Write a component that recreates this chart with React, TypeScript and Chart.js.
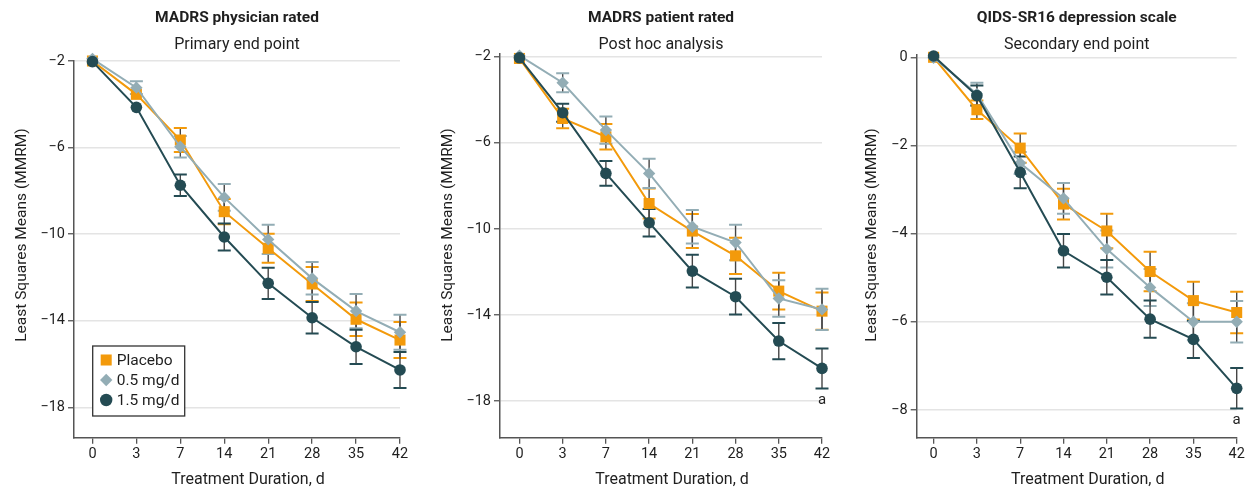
import React, { useEffect, useRef } from "react";
import { Chart, registerables } from "chart.js";
Chart.register(...registerables);

const FONT = "Roboto, 'Liberation Sans', sans-serif";
const TEXT = "#1f1f1f";

const DAYS = ["0", "3", "7", "14", "21", "28", "35", "42"];
const GROUPS = ["Placebo", "0.5 mg/d", "1.5 mg/d"];
const COLORS = ["#F39A0B", "#93ADB5", "#244B53"];
const STYLES = ["rect", "rectRot", "circle"];
const RADII = [7.8, 6.2, 5.8];

// Panel 1: MADRS physician rated
const A_PLACEBO = [-2.0, -3.54, -5.65, -8.96, -10.65, -12.3, -13.93, -14.89];
const A_PLACEBO_ERR = [0, 0, 0.55, 0.58, 0.67, 0.78, 0.77, 0.83];
const A_LOW = [-1.9, -3.23, -5.96, -8.3, -10.24, -12.04, -13.55, -14.53];
const A_LOW_ERR = [0, 0.3, 0.5, 0.62, 0.68, 0.75, 0.79, 0.81];
const A_HIGH = [-2.03, -4.14, -7.74, -10.13, -12.27, -13.86, -15.2, -16.27];
const A_HIGH_ERR = [0, 0, 0.5, 0.62, 0.72, 0.73, 0.79, 0.83];
const A_TICKS = [-2, -6, -10, -14, -18];

// Panel 2: MADRS patient rated
const B_PLACEBO = [-2.08, -4.87, -5.72, -8.82, -10.1, -11.25, -12.89, -13.82];
const B_PLACEBO_ERR = [0, 0.45, 0.59, 0.7, 0.79, 0.84, 0.85, 0.87];
const B_LOW = [-1.95, -3.21, -5.41, -7.42, -9.9, -10.63, -13.23, -13.74];
const B_LOW_ERR = [0, 0.44, 0.63, 0.68, 0.78, 0.82, 0.85, 0.96];
const B_HIGH = [-2.05, -4.6, -7.42, -9.71, -11.96, -13.15, -15.21, -16.48];
const B_HIGH_ERR = [0, 0.42, 0.58, 0.64, 0.76, 0.83, 0.84, 0.93];
const B_TICKS = [-2, -6, -10, -14, -18];

// Panel 3: QIDS-SR16
const C_PLACEBO = [0.0, -1.19, -2.06, -3.33, -3.94, -4.86, -5.52, -5.79];
const C_PLACEBO_ERR = [0, 0.21, 0.33, 0.35, 0.39, 0.45, 0.43, 0.47];
const C_LOW = [-0.01, -0.83, -2.4, -3.2, -4.35, -5.22, -6.0, -6.0];
const C_LOW_ERR = [0, 0.25, 0.25, 0.35, 0.42, 0.42, 0.42, 0.47];
const C_HIGH = [0.03, -0.87, -2.61, -4.39, -4.99, -5.94, -6.4, -7.51];
const C_HIGH_ERR = [0, 0.23, 0.36, 0.38, 0.39, 0.42, 0.42, 0.46];
const C_TICKS = [0, -2, -4, -6, -8];

const PANELS = [
  {
    title: "MADRS physician rated", subtitle: "Primary end point",
    series: [[A_PLACEBO, A_PLACEBO_ERR], [A_LOW, A_LOW_ERR], [A_HIGH, A_HIGH_ERR]],
    ticks: A_TICKS, yMin: -19.4, yMax: -2, xMin: -0.42,
    left: 0, width: 416, axisW: 74, padRight: 16, top: 61, yTitleX: 21.7,
    legend: true, annot: false,
  },
  {
    title: "MADRS patient rated", subtitle: "Post hoc analysis",
    series: [[B_PLACEBO, B_PLACEBO_ERR], [B_LOW, B_LOW_ERR], [B_HIGH, B_HIGH_ERR]],
    ticks: B_TICKS, yMin: -19.7, yMax: -1.85, xMin: -0.45,
    left: 420, width: 416, axisW: 80, padRight: 14, top: 53.5, yTitleX: 28,
    legend: false, annot: true,
  },
  {
    title: "QIDS-SR16 depression scale", subtitle: "Secondary end point",
    series: [[C_PLACEBO, C_PLACEBO_ERR], [C_LOW, C_LOW_ERR], [C_HIGH, C_HIGH_ERR]],
    ticks: C_TICKS, yMin: -8.63, yMax: 0.05, xMin: -0.39,
    left: 840, width: 407, axisW: 76.7, padRight: 10.3, top: 55.1, yTitleX: 31.7,
    legend: false, annot: true,
  },
];

const fmt = (v: number) => (v < 0 ? "\u2212" + Math.abs(v) : String(v));

function drawMarker(ctx: CanvasRenderingContext2D, style: string, x: number, y: number, r: number, color: string) {
  ctx.save();
  ctx.fillStyle = color;
  ctx.beginPath();
  if (style === "rect") {
    const s = r * Math.SQRT1_2;
    ctx.rect(x - s, y - s, 2 * s, 2 * s);
  } else if (style === "rectRot") {
    ctx.moveTo(x, y - r);
    ctx.lineTo(x + r, y);
    ctx.lineTo(x, y + r);
    ctx.lineTo(x - r, y);
    ctx.closePath();
  } else {
    ctx.arc(x, y, r, 0, Math.PI * 2);
  }
  ctx.fill();
  ctx.restore();
}

const errorBarPlugin = {
  id: "errorBars",
  beforeDatasetsDraw(chart: any) {
    const ctx = chart.ctx;
    const ys = chart.scales.y;
    chart.data.datasets.forEach((ds: any, di: number) => {
      const meta = chart.getDatasetMeta(di);
      const errs: number[] = ds.errors;
      meta.data.forEach((pt: any, i: number) => {
        const e = errs[i];
        if (!e) return;
        const v = ds.data[i].y;
        const yt = ys.getPixelForValue(v + e);
        const yb = ys.getPixelForValue(v - e);
        ctx.save();
        ctx.strokeStyle = "#454545";
        ctx.lineWidth = 1.4;
        ctx.beginPath();
        ctx.moveTo(pt.x, yt);
        ctx.lineTo(pt.x, yb);
        ctx.stroke();
        ctx.strokeStyle = ds.borderColor;
        ctx.lineWidth = 2;
        ctx.beginPath();
        ctx.moveTo(pt.x - 6.5, yt);
        ctx.lineTo(pt.x + 6.5, yt);
        ctx.moveTo(pt.x - 6.5, yb);
        ctx.lineTo(pt.x + 6.5, yb);
        ctx.stroke();
        ctx.restore();
      });
    });
  },
};

const textPlugin = {
  id: "panelText",
  afterDraw(chart: any) {
    const cfg = chart.options.plugins.panelText;
    const ctx = chart.ctx;
    const ca = chart.chartArea;
    const cx = (ca.left + ca.right) / 2;
    ctx.save();
    ctx.fillStyle = TEXT;
    ctx.textAlign = "center";
    ctx.textBaseline = "middle";
    ctx.font = `bold 15.5px ${FONT}`;
    ctx.fillText(cfg.title, cx, 18);
    ctx.font = `16px ${FONT}`;
    ctx.fillText(cfg.subtitle, cx, 45);
    ctx.fillText("Treatment Duration, d", cx + 11, 480);
    ctx.save();
    ctx.translate(cfg.yTitleX, 235);
    ctx.rotate(-Math.PI / 2);
    ctx.font = `15.5px ${FONT}`;
    ctx.fillText("Least Squares Means (MMRM)", 0, 0);
    ctx.restore();

    if (cfg.annot) {
      const di = 2;
      const ds = chart.data.datasets[di];
      const meta = chart.getDatasetMeta(di);
      const last = ds.data.length - 1;
      const pt = meta.data[last];
      const yb = chart.scales.y.getPixelForValue(ds.data[last].y - ds.errors[last]);
      ctx.font = `15px ${FONT}`;
      ctx.fillText("a", pt.x, yb + 12);
    }

    if (cfg.legend) {
      const bx = ca.left + 18.7;
      const by = ca.top + 285;
      ctx.fillStyle = "#fff";
      ctx.fillRect(bx, by, 92, 70);
      ctx.strokeStyle = "#333";
      ctx.lineWidth = 1.3;
      ctx.strokeRect(bx, by, 92, 70);
      ctx.font = `15.5px ${FONT}`;
      ctx.textAlign = "left";
      chart.data.datasets.forEach((ds: any, i: number) => {
        const yy = by + 14 + i * 20;
        drawMarker(ctx, STYLES[i], bx + 13.5, yy, STYLES[i] === "rect" ? 7.8 : 6.2, COLORS[i]);
        ctx.fillStyle = TEXT;
        ctx.fillText(ds.label, bx + 24, yy + 1);
      });
    }
    ctx.restore();
  },
};

function Panel({ p }: { p: any }) {
  const ref = useRef<HTMLCanvasElement>(null);
  useEffect(() => {
    const datasets = p.series.map((s: number[][], i: number) => ({
      label: GROUPS[i],
      data: s[0].map((v: number, j: number) => ({ x: j, y: v })),
      errors: s[1],
      borderColor: COLORS[i],
      backgroundColor: COLORS[i],
      pointBackgroundColor: COLORS[i],
      pointBorderWidth: 0,
      pointStyle: STYLES[i],
      pointRadius: RADII[i],
      pointHoverRadius: RADII[i],
      borderWidth: 2,
      tension: 0,
      clip: false,
      order: 3 - i,
    }));
    const chart = new Chart(ref.current as HTMLCanvasElement, {
      type: "line",
      data: { datasets },
      plugins: [errorBarPlugin, textPlugin],
      options: {
        animation: false,
        responsive: false,
        events: [],
        layout: { padding: { top: p.top, right: p.padRight, left: 0, bottom: 0 } },
        plugins: {
          legend: { display: false },
          tooltip: { enabled: false },
          title: { display: false },
          panelText: { title: p.title, subtitle: p.subtitle, yTitleX: p.yTitleX, legend: p.legend, annot: p.annot },
        } as any,
        scales: {
          x: {
            type: "linear",
            min: p.xMin,
            max: 7,
            afterBuildTicks: (s: any) => { s.ticks = DAYS.map((_, i) => ({ value: i })); },
            afterFit: (s: any) => { s.height = 491 - 437.7; },
            ticks: {
              font: { family: FONT, size: 14.5 },
              color: TEXT,
              padding: 2,
              maxRotation: 0,
              callback: (v: any) => DAYS[Math.round(Number(v))],
            },
            grid: { drawOnChartArea: false, tickLength: 6, tickColor: "#555", lineWidth: 1.3 },
            border: { color: "#555", width: 1.5 },
          },
          y: {
            type: "linear",
            min: p.yMin,
            max: p.yMax,
            afterBuildTicks: (s: any) => { s.ticks = p.ticks.map((v: number) => ({ value: v })); },
            afterFit: (s: any) => { s.width = p.axisW; },
            ticks: {
              font: { family: FONT, size: 14.5 },
              color: TEXT,
              padding: 3,
              callback: (v: any) => fmt(Number(v)),
            },
            grid: { color: "#e4e4e4", lineWidth: 1.5, tickLength: 6, tickColor: "#555", tickWidth: 1.3 },
            border: { color: "#555", width: 1.5 },
          },
        },
      } as any,
    });
    return () => chart.destroy();
  }, []);
  return (
    <div style={{ position: "absolute", left: p.left, top: 0, width: p.width, height: 491 }}>
      <canvas ref={ref} width={p.width} height={491} style={{ display: "block" }} />
    </div>
  );
}

export default function App() {
  return (
    <div style={{ position: "absolute", left: 0, top: 0, width: 1247, height: 491, background: "#fff" }}>
      {PANELS.map((p, i) => (
        <Panel key={i} p={p} />
      ))}
    </div>
  );
}
